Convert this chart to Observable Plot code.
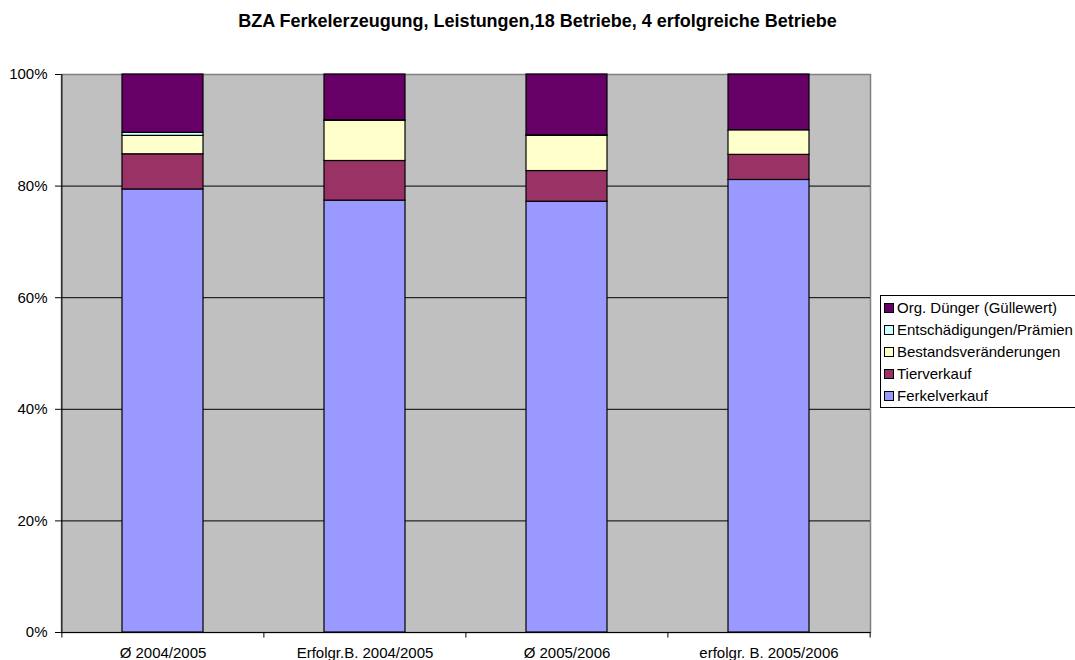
<!DOCTYPE html>
<html>
<head>
<meta charset="utf-8">
<script src="https://cdn.jsdelivr.net/npm/d3@7"></script>
<script src="https://cdn.jsdelivr.net/npm/@observablehq/plot@0.6"></script>
<style>
  html, body { margin: 0; padding: 0; background: #fff; }
  #wrap { position: relative; width: 1075px; height: 660px; overflow: hidden; font-family: "Liberation Sans", Arial, sans-serif; }
  #title { position: absolute; left: 0; width: 1075px; top: 11px; line-height: 20px; text-align: center; font-weight: bold; font-size: 18px; color: #000; }
  #legend { position: absolute; left: 880px; top: 295px; width: 230px; height: 113px; border: 1px solid #000; background: #fff; box-sizing: border-box; font-size: 15px; }
  .item { position: absolute; left: 3px; height: 18px; line-height: 18px; white-space: nowrap; color: #000; }
  .sw { display: inline-block; width: 8px; height: 8px; border: 1px solid #000; margin-right: 3px; vertical-align: 0px; }
  #chart { position: absolute; left: 0; top: 0; }
</style>
</head>
<body>
<div id="wrap">
  <div id="chart"></div>
  <div id="title"></div>
  <div id="legend"></div>
</div>
<script>
const titleText = "BZA Ferkelerzeugung, Leistungen,18 Betriebe, 4 erfolgreiche Betriebe";
const categories = ["Ø 2004/2005", "Erfolgr.B. 2004/2005", "Ø 2005/2006", "erfolgr. B. 2005/2006"];
const seriesNames = ["Ferkelverkauf", "Tierverkauf", "Bestandsveränderungen", "Entschädigungen/Prämien", "Org. Dünger (Güllewert)"];
const seriesColors = ["#9999FF", "#993366", "#FFFFCC", "#CCFFFF", "#660066"];
const ferkelverkauf = [79.4, 77.4, 77.2, 81.1];
const tierverkauf = [6.3, 7.1, 5.5, 4.5];
const bestandsveraenderungen = [3.3, 7.2, 6.3, 4.4];
const entschaedigungen = [0.55, 0.1, 0.1, 0.0];
const orgDuenger = [10.45, 8.2, 10.9, 10.0];
const yTicks = [0, 20, 40, 60, 80, 100];

const seriesValues = [ferkelverkauf, tierverkauf, bestandsveraenderungen, entschaedigungen, orgDuenger];
const data = [];
seriesNames.forEach((s, si) => categories.forEach((c, ci) => data.push({cat: c, series: s, value: seriesValues[si][ci]})));

document.getElementById("title").textContent = titleText;

const W = 1075, H = 660;
const mL = 61, mR = 205, mT = 74, mB = 28;
const step = (W - mL - mR) / categories.length;

const chart = Plot.plot({
  width: W, height: H,
  marginLeft: mL, marginRight: mR, marginTop: mT, marginBottom: mB,
  style: {fontFamily: "'Liberation Sans', Arial, sans-serif", fontSize: "15px", color: "#000", background: "transparent", overflow: "visible"},
  x: {domain: categories, paddingInner: 0.6, paddingOuter: 0.3, label: null, tickSize: 0, tickPadding: 15},
  y: {domain: [0, 100], ticks: yTicks, tickFormat: d => d + "%", label: null, tickSize: 6, tickPadding: 8},
  color: {domain: seriesNames, range: seriesColors},
  marks: [
    Plot.frame({fill: "#C0C0C0", stroke: "#808080", strokeWidth: 1.5}),
    Plot.ruleY(yTicks.filter(t => t > 0 && t < 100), {stroke: "#000", strokeWidth: 1}),
    Plot.barY(data, {x: "cat", y: "value", fill: "series", order: seriesNames, stroke: "#000", strokeWidth: 1.2}),
    Plot.ruleY([0], {stroke: "#000", strokeWidth: 1}),
    Plot.ruleX([categories[0]], {y1: 0, y2: 100, dx: -step / 2, stroke: "#000", strokeWidth: 1}),
    Plot.ruleX(categories, {y1: 0, y2: -1, dx: -step / 2, stroke: "#000"}),
    Plot.ruleX([categories[categories.length - 1]], {y1: 0, y2: -1, dx: step / 2, stroke: "#000"})
  ]
});
document.getElementById("chart").appendChild(chart);

const legend = document.getElementById("legend");
const order = seriesNames.slice().reverse();
order.forEach((s, i) => {
  const div = document.createElement("div");
  div.className = "item";
  div.style.top = (3 + i * 22) + "px";
  const sw = document.createElement("span");
  sw.className = "sw";
  sw.style.background = seriesColors[seriesNames.indexOf(s)];
  div.appendChild(sw);
  div.appendChild(document.createTextNode(s));
  legend.appendChild(div);
});
</script>
</body>
</html>
